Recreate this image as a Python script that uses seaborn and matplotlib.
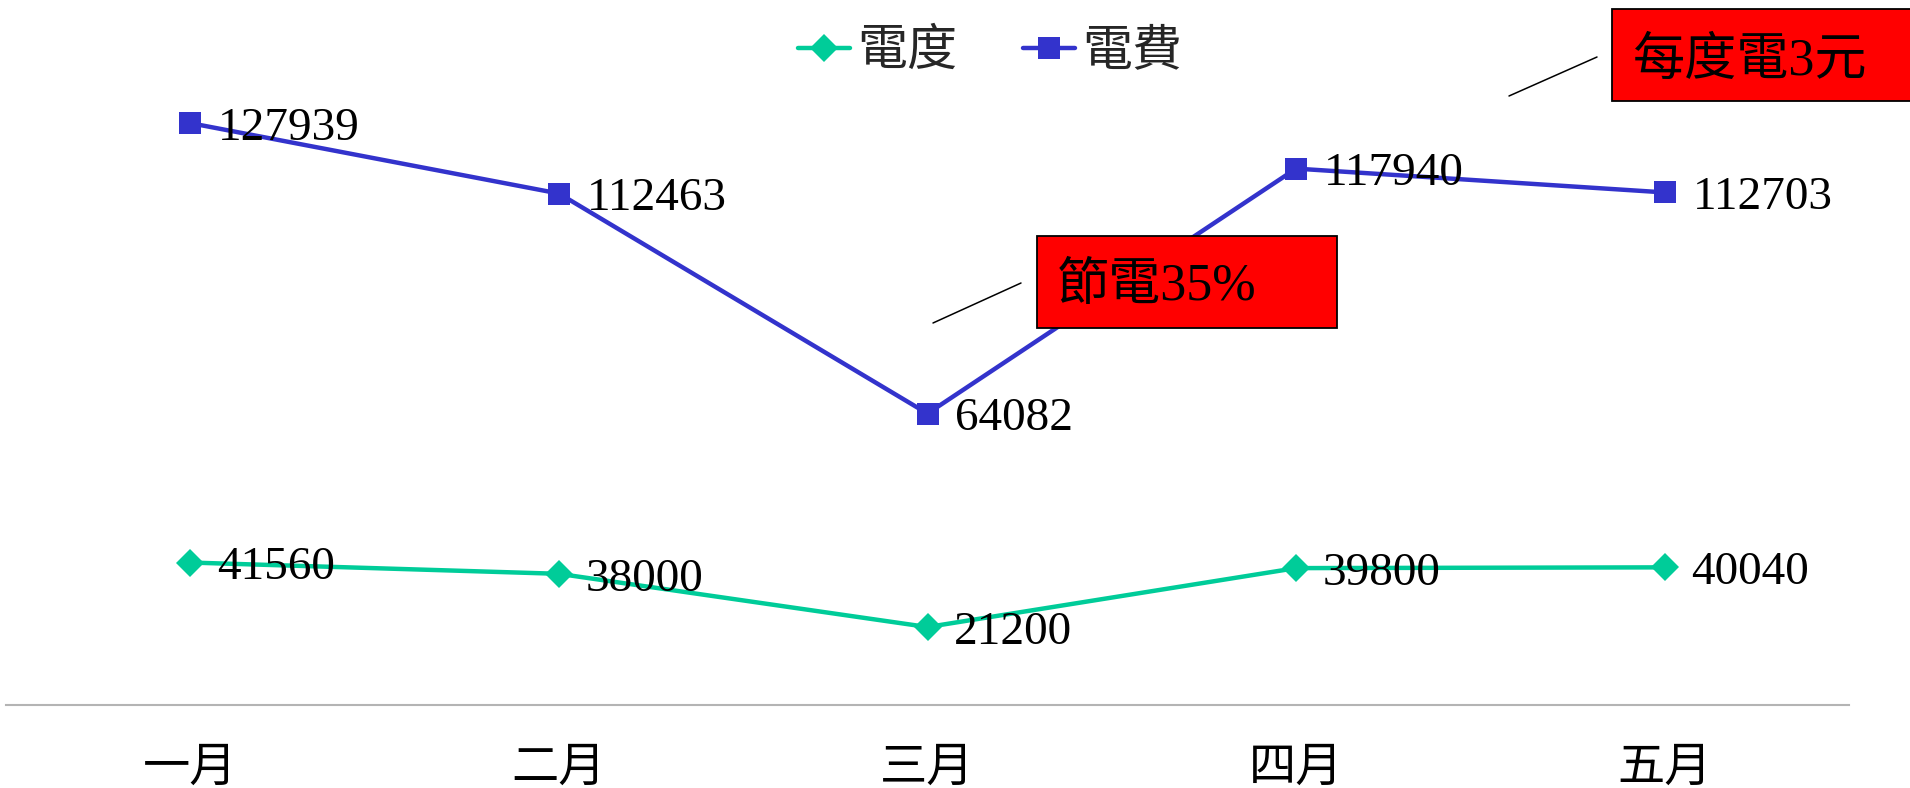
import matplotlib
matplotlib.use('Agg')
import matplotlib.pyplot as plt
import seaborn as sns
import pandas as pd
from matplotlib.patches import Rectangle
from matplotlib.lines import Line2D

months = ['一月', '二月', '三月', '四月', '五月']
kwh = [41560, 38000, 21200, 39800, 40040]
cost = [127939, 112463, 64082, 117940, 112703]
series_names = ['電度', '電費']
notes = ['節電35%', '每度電3元']

sns.set_theme(style='white')
plt.rcParams['font.family'] = ['Liberation Serif', 'Noto Sans CJK TC', 'DejaVu Sans']

W, H = 1910, 788
fig = plt.figure(figsize=(W / 100, H / 100), dpi=100)
ax = fig.add_axes([6 / W, (H - 705) / H, (1849 - 6) / W, 660 / H])
ax2 = ax.twinx()

df = pd.DataFrame({'月份': months, series_names[0]: kwh, series_names[1]: cost})
green = '#00CC99'
blue = '#3333CC'

sns.lineplot(data=df, x='月份', y=series_names[1], ax=ax, color=blue, marker='s',
             markersize=15.5, linewidth=3.2, markeredgewidth=0, label=series_names[1], sort=False)
sns.lineplot(data=df, x='月份', y=series_names[0], ax=ax2, color=green, marker='D',
             markersize=14.5, linewidth=3.2, markeredgewidth=0, label=series_names[0], sort=False)

for i, v in enumerate(cost):
    ax.annotate(f'{v}', (i, v), xytext=(20, -4), textcoords='offset points',
                va='center', ha='left', fontsize=34, color='black', zorder=5)
for i, v in enumerate(kwh):
    ax2.annotate(f'{v}', (i, v), xytext=(19, -4), textcoords='offset points',
                 va='center', ha='left', fontsize=34, color='black', zorder=5)

ax.set_xlim(-0.5, 4.5)
ax.set_ylim(0, 145119)
ax2.set_ylim(-3409, 204924)

for a in (ax, ax2):
    a.set_xlabel('')
    a.set_ylabel('')
    a.set_yticks([])
    for s in ('top', 'left', 'right'):
        a.spines[s].set_visible(False)
ax2.spines['bottom'].set_visible(False)
ax.spines['bottom'].set_color('#b4b4b4')
ax.spines['bottom'].set_linewidth(1.5)
ax.tick_params(axis='x', length=0, pad=31, labelsize=34, colors='black')

h1, l1 = ax.get_legend_handles_labels()
h2, l2 = ax2.get_legend_handles_labels()
for a in (ax, ax2):
    if a.get_legend() is not None:
        a.get_legend().remove()
fig.legend(handles=h2 + h1, labels=l2 + l1, loc='center', bbox_to_anchor=(990 / W, 1 - 53 / H),
           ncol=2, frameon=False, fontsize=36, handlelength=1.05, handletextpad=0.15,
           columnspacing=1.3)

# callout boxes
def box(x0, y0, x1, y1, text, tx, ty, lx0, ly0, lx1, ly1):
    fig.add_artist(Line2D([lx0 / W, lx1 / W], [1 - ly0 / H, 1 - ly1 / H],
                          transform=fig.transFigure, color='black', lw=1.1, zorder=10))
    fig.add_artist(Rectangle((x0 / W, 1 - y1 / H), (x1 - x0) / W, (y1 - y0) / H,
                             transform=fig.transFigure, facecolor='#FF0000',
                             edgecolor='black', lw=1.3, zorder=10))
    fig.text(tx / W, 1 - ty / H, text, fontsize=37.5, ha='left', va='center',
             color='black', zorder=11)

box(1037, 236, 1337, 328, notes[0], 1057, 287, 933, 323, 1021, 283)
box(1612, 9, 1940, 101, notes[1], 1633, 62, 1509, 96, 1597, 57)

fig.savefig('out.png', dpi=100)
